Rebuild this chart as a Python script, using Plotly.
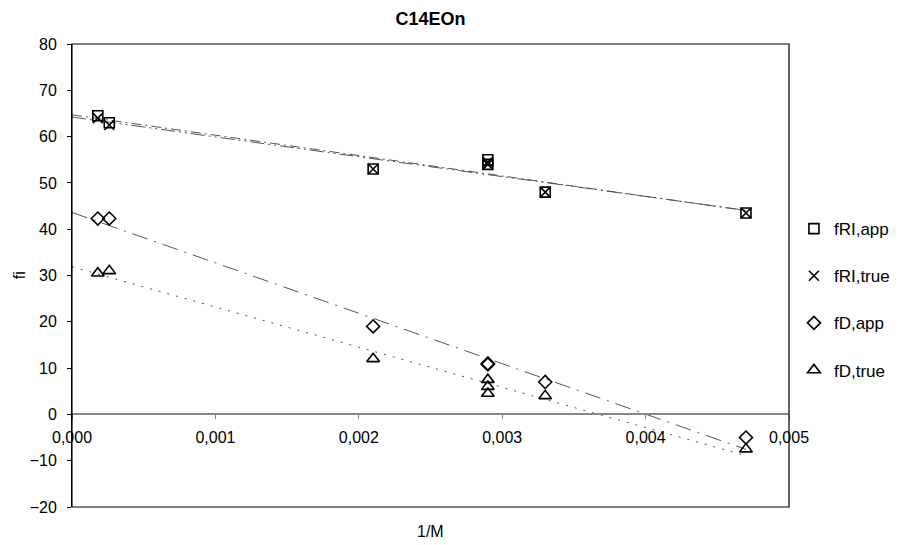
import numpy as np
import plotly.graph_objects as go

# ---- data ----
x_fri = [0.00018, 0.00026, 0.0021, 0.0029, 0.0029, 0.0033, 0.0047]
y_fri_app = [64.5, 63.0, 53.0, 55.0, 54.0, 48.0, 43.5]
y_fri_true = [64.0, 62.5, 53.0, 54.5, 54.0, 48.0, 43.5]

x_fd_app = [0.00018, 0.00026, 0.0021, 0.0029, 0.0029, 0.0033, 0.0047]
y_fd_app = [42.3, 42.3, 19.0, 11.0, 10.8, 7.0, -5.0]

x_fd_true = [0.00018, 0.00026, 0.0021, 0.0029, 0.0029, 0.0029, 0.0033, 0.0047]
y_fd_true = [30.5, 31.0, 12.0, 7.5, 6.0, 4.5, 4.0, -7.5]

series_names = ["fRI,app", "fRI,true", "fD,app", "fD,true"]

FONT = "Liberation Sans, Arial, sans-serif"

fig = go.Figure()

def trend(xs, ys):
    m, b = np.polyfit(xs, ys, 1)
    xx = np.array([0.0, max(xs)])
    return xx, m * xx + b

series = [
    (x_fri, y_fri_app, "square-open", 10, "10px,4px,2px,4px"),
    (x_fri, y_fri_true, "x-thin-open", 10, "14px,4px,2px,4px,2px,4px"),
    (x_fd_app, y_fd_app, "diamond-open", 10, "16px,7px,2px,7px"),
    (x_fd_true, y_fd_true, "triangle-up-open", 11, "2px,7px"),
]

# trendlines
for xs, ys, sym, sz, dash in series:
    tx, ty = trend(xs, ys)
    fig.add_trace(go.Scatter(x=tx, y=ty, mode="lines", showlegend=False,
                             line=dict(color="#555555", width=1, dash=dash),
                             hoverinfo="skip"))

# markers
for name, (xs, ys, sym, sz, dash) in zip(series_names, series):
    fig.add_trace(go.Scatter(x=xs, y=ys, mode="markers", name=name,
                             legendgroup=name,
                             marker=dict(symbol=sym, size=sz, color="black",
                                         line=dict(color="black", width=1.6))))

# page body has an 8px margin, so the figure is sized to fit the window
W, H = 899, 537
L, R, T, B = 64, 109, 36, 38
PW, PH = W - L - R, H - T - B

fig.update_layout(
    width=W, height=H,
    margin=dict(l=L, r=R, t=T, b=B),
    paper_bgcolor="white", plot_bgcolor="white",
    separators=", ",
    font=dict(family=FONT, size=16, color="black"),
    title=dict(text="<b>C14EOn</b>", x=0.5, xanchor="center", xref="paper",
               y=1 - 11 / H, yanchor="middle", yref="container",
               font=dict(family=FONT, size=18, color="black")),
    legend=dict(x=(795 - L) / PW, xanchor="left", y=0.448, yanchor="middle",
                tracegroupgap=22, font=dict(family=FONT, size=17),
                bgcolor="rgba(0,0,0,0)", itemwidth=30),
    xaxis=dict(range=[0, 0.005], dtick=0.001, tickformat=".3f",
               anchor="free", position=0.2,
               showline=True, linecolor="#888888", linewidth=1.5,
               ticks="outside", ticklen=4, tickcolor="#888888",
               showgrid=False, zeroline=False, ticklabelstandoff=5,
               tickfont=dict(family=FONT, size=16)),
    yaxis=dict(range=[-20, 80], dtick=10, showline=True, linecolor="black",
               ticks="outside", ticklen=4, tickcolor="black",
               showgrid=False, zeroline=False, ticklabelstandoff=7,
               tickfont=dict(family=FONT, size=16)),
    shapes=[dict(type="rect", xref="paper", yref="paper", x0=0, x1=1, y0=0, y1=1,
                 line=dict(color="black", width=1.2), layer="above")],
    annotations=[
        dict(text="1/M", xref="paper", yref="paper", x=0.5, y=-24 / PH,
             showarrow=False, font=dict(family=FONT, size=16), yanchor="middle"),
        dict(text="fi", xref="paper", yref="paper", x=(11 - L) / PW, y=0.5,
             showarrow=False, textangle=-90, font=dict(family=FONT, size=16),
             borderpad=0, xanchor="center", yanchor="middle"),
    ],
)

fig.write_html("out.html")
